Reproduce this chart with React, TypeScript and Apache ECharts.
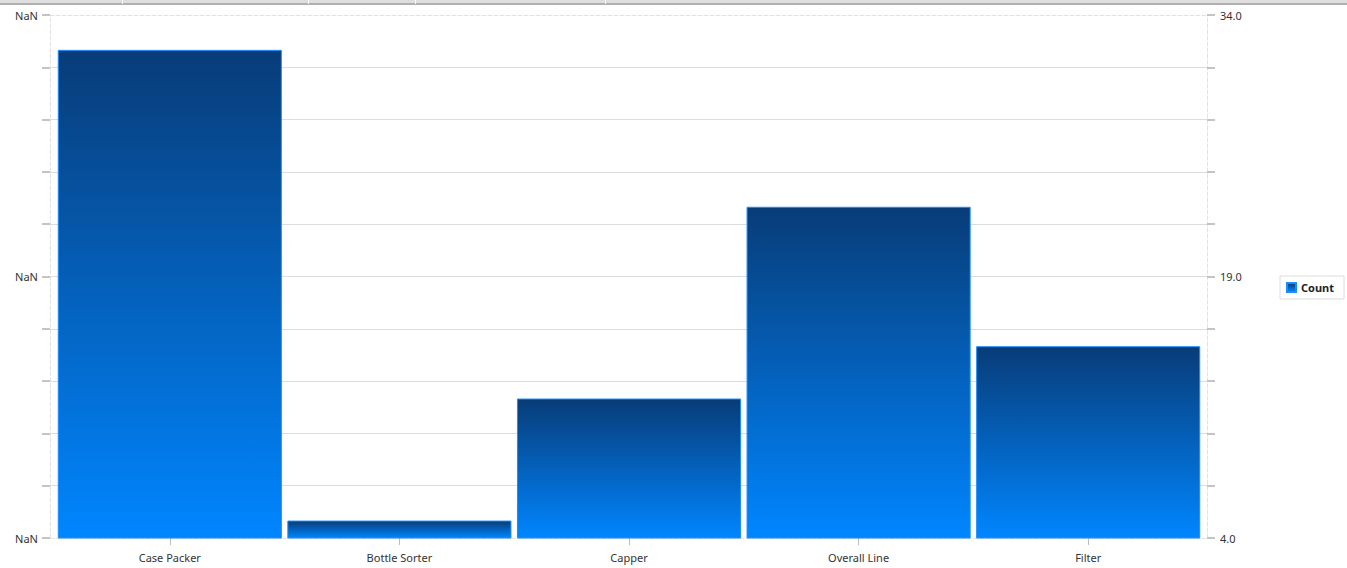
import React, { useRef, useEffect } from "react";
import * as echarts from "echarts";

const categories = ["Case Packer", "Bottle Sorter", "Capper", "Overall Line", "Filter"];
const counts = [32, 5, 12, 23, 15];
const tickValues = [4, 7, 10, 13, 16, 19, 22, 25, 28, 31, 34];
const labelValues = [4, 19, 34];
const tabDividers = [122, 308, 415, 605];

const App = function () {
  const chart = useRef(null);
  useEffect(() => {
    document.body.style.margin = "0";
    if (!chart.current) return;
    let myChart = echarts.init(chart.current as any, null, { renderer: "svg" });
    const font = "'Segoe UI', 'Noto Sans', sans-serif";
    const dashed = { show: true, lineStyle: { color: "#e3e3e3", type: "dashed", width: 1 } };
    const yBase = {
      type: "value",
      min: 4,
      max: 34,
      axisLine: dashed,
      axisTick: {
        show: true,
        length: 8,
        customValues: tickValues,
        lineStyle: { color: "#c4c4c4", width: 2 },
      },
    };
    let option = {
      animation: false,
      // grid 0: frame, gridlines and value axes; grid 1: the bars, slightly inset
      grid: [
        { left: 50, right: 140, top: 15, bottom: 30 },
        { left: 55, right: 144, top: 15, bottom: 30 },
      ],
      legend: {
        data: ["Count"],
        left: 1280,
        top: 276,
        orient: "vertical",
        borderColor: "#dcdcdc",
        borderWidth: 1,
        padding: [6, 10, 6, 6],
        itemWidth: 9,
        itemHeight: 9,
        icon: "rect",
        textStyle: { fontFamily: font, fontSize: 11, fontWeight: "bold", color: "#222" },
      },
      xAxis: [
        {
          type: "category",
          gridIndex: 0,
          data: categories,
          axisLine: dashed,
          axisTick: { show: false },
          axisLabel: { show: false },
        },
        {
          type: "category",
          gridIndex: 0,
          position: "top",
          data: categories,
          axisLine: dashed,
          axisTick: { show: false },
          axisLabel: { show: false },
        },
        {
          type: "category",
          gridIndex: 1,
          data: categories,
          axisLine: { show: false },
          axisTick: {
            show: true,
            alignWithLabel: true,
            length: 7,
            lineStyle: { color: "#bdbdbd" },
          },
          axisLabel: { fontFamily: font, fontSize: 11, color: "#333", margin: 14 },
        },
      ],
      yAxis: [
        {
          ...yBase,
          gridIndex: 0,
          position: "left",
          axisLabel: {
            customValues: labelValues,
            formatter: () => "NaN",
            fontFamily: font,
            fontSize: 11,
            color: "#333",
            margin: 12,
          },
          splitLine: {
            show: true,
            showMinLine: false,
            showMaxLine: false,
            lineStyle: { color: "#dcdcdc" },
          },
        },
        {
          ...yBase,
          gridIndex: 0,
          position: "right",
          axisLabel: {
            customValues: labelValues,
            formatter: (v: number) => v.toFixed(1),
            fontFamily: font,
            fontSize: 11,
            color: "#333",
            margin: 13,
          },
          splitLine: { show: false },
        },
        {
          type: "value",
          gridIndex: 1,
          min: 4,
          max: 34,
          show: false,
        },
      ],
      series: [
        {
          name: "Count",
          type: "bar",
          xAxisIndex: 2,
          yAxisIndex: 2,
          data: counts,
          barCategoryGap: "2.4%",
          itemStyle: {
            color: new echarts.graphic.LinearGradient(0, 0, 0, 1, [
              { offset: 0, color: "#083c78" },
              { offset: 1, color: "#0086ff" },
            ]),
            borderColor: "#1c8cff",
            borderWidth: 1,
          },
        },
      ],
      graphic: [
        { type: "rect", shape: { x: 0, y: 0, width: 1347, height: 3 }, style: { fill: "#dedede" } },
        { type: "rect", shape: { x: 0, y: 3, width: 1347, height: 2 }, style: { fill: "#b0b0b0" } },
        ...tabDividers.map((x) => ({
          type: "rect",
          shape: { x: x, y: 0, width: 1, height: 4 },
          style: { fill: "#ffffff" },
        })),
      ],
    };
    myChart.setOption(option as any);
    return () => {
      myChart.dispose();
    };
  }, []);
  return <div ref={chart} style={{ width: 1347, height: 568 }}></div>;
};
export default App;
